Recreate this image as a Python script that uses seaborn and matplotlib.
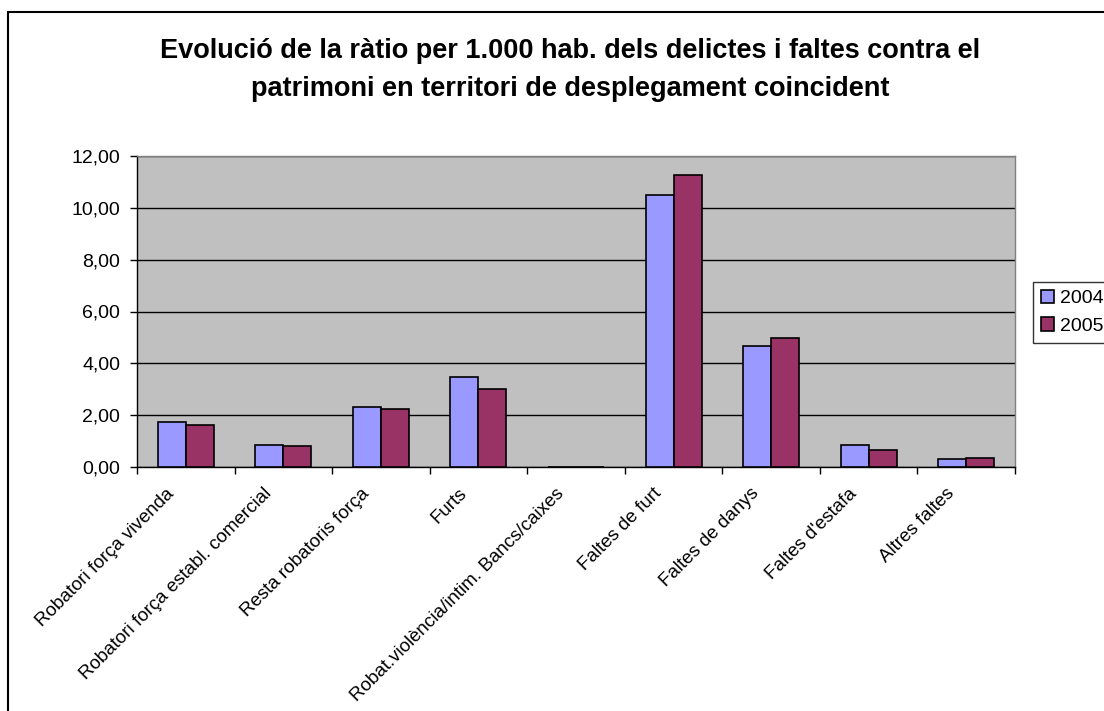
import pandas as pd
import numpy as np
import matplotlib
matplotlib.use("Agg")
import matplotlib.pyplot as plt
import seaborn as sns
from matplotlib.lines import Line2D
from matplotlib.ticker import FuncFormatter, FixedLocator

# ── Data ─────────────────────────────────────────────────────────────────────
categories = [
    "Robatori força vivenda",
    "Robatori força establ. comercial",
    "Resta robatoris força",
    "Furts",
    "Robat.violència/intim. Bancs/caixes",
    "Faltes de furt",
    "Faltes de danys",
    "Faltes d'estafa",
    "Altres faltes",
]
years = ["2004", "2005"]
vals_2004 = [1.75, 0.86, 2.32, 3.46, 0.0, 10.49, 4.66, 0.86, 0.30]
vals_2005 = [1.62, 0.80, 2.25, 3.01, 0.0, 11.25, 4.97, 0.67, 0.36]
colors = ["#9999FF", "#993366"]

df = pd.DataFrame({
    "categoria": categories * 2,
    "any": [years[0]] * len(categories) + [years[1]] * len(categories),
    "ratio": vals_2004 + vals_2005,
})

# ── Figure ───────────────────────────────────────────────────────────────────
sns.set_theme(style="white")
plt.rcParams["font.family"] = ["Liberation Sans", "DejaVu Sans"]
plt.rcParams["text.color"] = "black"
plt.rcParams["xtick.color"] = "black"
plt.rcParams["ytick.color"] = "black"

W, H = 1104, 711
fig = plt.figure(figsize=(W / 100, H / 100), dpi=100)
ax = fig.add_axes([137 / W, 1 - 467 / H, (1015 - 137) / W, (467 - 156) / H])
ax.set_facecolor("#C0C0C0")

sns.barplot(data=df, x="categoria", y="ratio", hue="any", order=categories,
            hue_order=years, palette=colors, width=0.575, gap=0,
            edgecolor="black", linewidth=1.2, saturation=1, ax=ax, zorder=3)

ax.set_ylim(0, 12)
ax.set_xlim(-0.5, len(categories) - 0.5)
ax.set_yticks(np.arange(0, 13, 2))
ax.yaxis.set_major_formatter(FuncFormatter(lambda v, p: f"{v:.2f}".replace(".", ",")))
ax.yaxis.grid(True, color="black", linewidth=1, zorder=1)
ax.set_axisbelow(True)
ax.set_xlabel("")
ax.set_ylabel("")

# category labels rotated (anchored a bit left of centre, like Excel),
# tick marks between categories
ax.set_xticks(np.arange(len(categories)) - 0.21)
ax.set_xticklabels(categories, rotation=45, ha="right", va="top",
                   rotation_mode="anchor", fontsize=13.5)
ax.tick_params(axis="x", which="major", length=0, pad=13)
ax.xaxis.set_minor_locator(FixedLocator(np.arange(-0.5, len(categories), 1)))
ax.tick_params(axis="x", which="minor", direction="out", length=5, width=1,
               color="black", bottom=True)
ax.tick_params(axis="y", direction="out", length=5, width=1, color="black",
               left=True, labelsize=14, pad=7)

for side in ["left", "bottom"]:
    ax.spines[side].set_color("black")
    ax.spines[side].set_linewidth(1)
for side in ["top", "right"]:
    ax.spines[side].set_color("#808080")
    ax.spines[side].set_linewidth(1)

# legend
handles, labels = ax.get_legend_handles_labels()
ax.legend_.remove()
leg = fig.legend(handles, labels, loc="upper left",
                 bbox_to_anchor=(1033 / W, 1 - 282 / H), frameon=True,
                 fancybox=False, edgecolor="black", fontsize=14,
                 handlelength=0.7, handleheight=0.7, handletextpad=0.3,
                 borderpad=0.4, labelspacing=0.5, borderaxespad=0)
leg.get_frame().set_linewidth(1)

# title
fig.text(570 / W, 1 - 70 / H,
         "Evolució de la ràtio per 1.000 hab. dels delictes i faltes contra el\n"
         "patrimoni en territori de desplegament coincident",
         ha="center", va="center", fontsize=19.5, fontweight="bold",
         linespacing=1.6, color="black")

# chart frame
fig.add_artist(Line2D([8 / W, 8 / W], [0, 1 - 12 / H], transform=fig.transFigure,
                      color="black", lw=1.5))
fig.add_artist(Line2D([8 / W, 1], [1 - 12 / H, 1 - 12 / H],
                      transform=fig.transFigure, color="black", lw=1.5))

fig.savefig("out.png", dpi=100)
